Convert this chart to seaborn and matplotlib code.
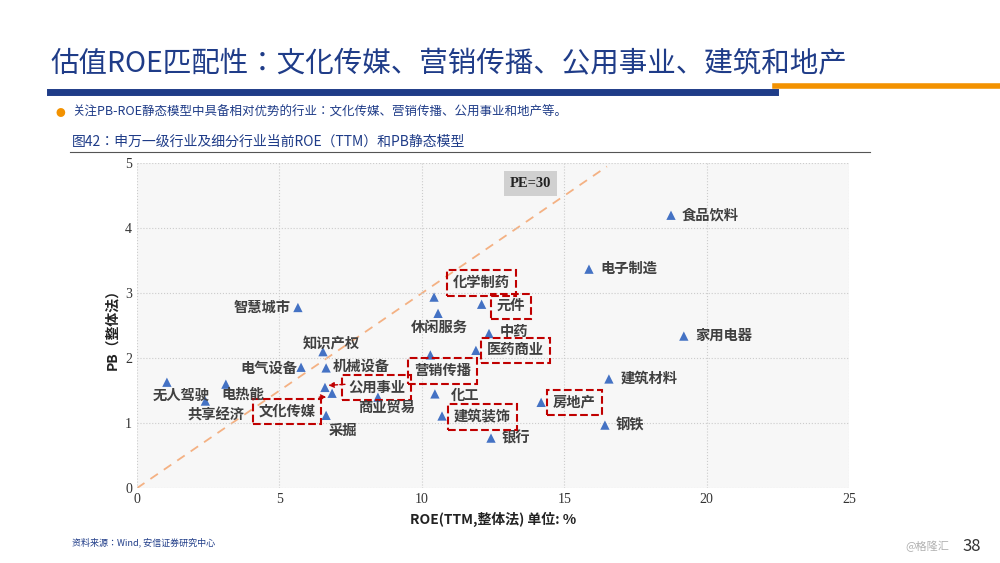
import matplotlib
matplotlib.use("Agg")
import matplotlib.pyplot as plt
import seaborn as sns
import pandas as pd
import numpy as np

plt.rcParams['font.family'] = ['Noto Sans CJK JP']

industries = ['食品饮料', '电子制造', '家用电器', '建筑材料', '钢铁', '房地产', '银行', '建筑装饰',
              '化工', '营销传播', '医药商业', '中药', '元件', '化学制药', '休闲服务', '智慧城市',
              '知识产权', '电气设备', '机械设备', '公用事业', '商业贸易', '文化传媒', '采掘',
              '无人驾驶', '电热能', '共享经济']
roe = [18.75, 15.87, 19.2, 16.57, 16.43, 14.19, 12.43, 10.71,
       10.46, 10.3, 11.9, 12.36, 12.1, 10.43, 10.57, 5.65,
       6.53, 5.76, 6.64, 6.6, 8.46, 6.85, 6.64,
       1.05, 3.12, 2.4]
pb = [4.2, 3.37, 2.34, 1.68, 0.97, 1.32, 0.77, 1.11,
      1.45, 2.05, 2.12, 2.38, 2.83, 2.94, 2.69, 2.78,
      2.1, 1.86, 1.85, 1.55, 1.4, 1.46, 1.12,
      1.63, 1.6, 1.34]
highlight = ['化学制药', '元件', '医药商业', '营销传播', '公用事业', '文化传媒', '建筑装饰', '房地产']
pe_line_x = [0, 16.5]
pe_ratio = 0.3

# label offsets in pixels (dx, dy, ha)
offsets = {
    '食品饮料': (11, 0, 'left'), '电子制造': (11, 0, 'left'), '家用电器': (12, 0, 'left'),
    '建筑材料': (12, 0, 'left'), '钢铁': (11, 0, 'left'), '房地产': (12, 0, 'left'),
    '银行': (11, 0, 'left'), '建筑装饰': (12, -1, 'left'), '化工': (16, -2, 'left'),
    '营销传播': (12, -16, 'center'), '医药商业': (11, 0, 'left'), '中药': (11, 2, 'left'),
    '元件': (15, -2, 'left'), '化学制药': (19, 14, 'left'), '休闲服务': (1, -14, 'center'),
    '智慧城市': (-7, 0, 'right'), '知识产权': (8, 8, 'center'), '电气设备': (-4, -1, 'right'),
    '机械设备': (7, 1, 'left'), '公用事业': (23, 0, 'left'), '商业贸易': (9, -11, 'center'),
    '文化传媒': (-45, -18, 'center'), '采掘': (17, -16, 'center'), '无人驾驶': (14, -14, 'center'),
    '电热能': (17, -11, 'center'), '共享经济': (11, -14, 'center'),
}

df = pd.DataFrame({'industry': industries, 'roe': roe, 'pb': pb})

fig = plt.figure(figsize=(10, 5.63), dpi=100)
ax = fig.add_axes([0.137, 0.133, 0.712, 0.577])
ax.set_facecolor('#f7f7f7')

line_x = np.array(pe_line_x)
ax.plot(line_x, line_x * pe_ratio, color='#f4b183', ls=(0, (5, 4)), lw=1.3, zorder=1)

sns.scatterplot(data=df, x='roe', y='pb', marker='^', color='#4472c4', s=45,
                edgecolor='none', ax=ax, zorder=3)

for _, r in df.iterrows():
    dx, dy, ha = offsets[r.industry]
    box = None
    if r.industry in highlight:
        box = dict(boxstyle='square,pad=0.4', fc='none', ec='#c00000', ls='--', lw=1.5)
    ax.annotate(r.industry, (r.roe, r.pb), xytext=(dx, dy), textcoords='offset pixels',
                ha=ha, va='center', fontsize=10.3, fontweight='bold', color='#404040',
                bbox=box, zorder=4)

# small arrows from boxed labels to their points
ax.annotate('', (6.62, 1.58), xytext=(7.4, 1.6),
            arrowprops=dict(arrowstyle='-|>', color='#c00000', lw=1, ls='--', mutation_scale=8))
ax.annotate('', (6.75, 1.4), xytext=(6.3, 1.4),
            arrowprops=dict(arrowstyle='-|>', color='#c00000', lw=1, ls='--', mutation_scale=8))

ax.text(13.83, 4.69, 'PE=30', ha='center', va='center', fontsize=10.5, fontweight='bold',
        family='Liberation Serif', color='#222222',
        bbox=dict(boxstyle='square,pad=0.4', fc='#d0d0d0', ec='none'))

ax.set_xlim(0, 25)
ax.set_ylim(0, 5)
ax.set_xticks([0, 5, 10, 15, 20, 25])
ax.set_yticks([0, 1, 2, 3, 4, 5])
for lab in ax.get_xticklabels() + ax.get_yticklabels():
    lab.set_family('Liberation Serif')
    lab.set_fontsize(10)
ax.tick_params(length=0, colors='#333333')
ax.grid(True, ls=':', color='#cccccc', lw=0.8)
for s in ax.spines.values():
    s.set_visible(False)
ax.set_xlabel('ROE(TTM,整体法) 单位: %', fontsize=10, fontweight='bold', color='#222222')
ax.set_ylabel('PB（整体法）', fontsize=10, fontweight='bold', color='#222222')

# slide decoration
fig.text(0.05, 0.885, '估值ROE匹配性：文化传媒、营销传播、公用事业、建筑和地产',
         fontsize=20.5, color='#1f3c88', va='center')
fig.add_artist(plt.Line2D([0.05, 0.775], [0.836, 0.836], color='#1f3c88', lw=5))
fig.add_artist(plt.Line2D([0.775, 1.0], [0.847, 0.847], color='#f39200', lw=4))
fig.text(0.055, 0.8, '●', fontsize=7, color='#f39200', va='center')
fig.text(0.072, 0.8, '关注PB-ROE静态模型中具备相对优势的行业：文化传媒、营销传播、公用事业和地产等。',
         fontsize=9, color='#1f3c88', va='center')
fig.text(0.072, 0.749, '图42：申万一级行业及细分行业当前ROE（TTM）和PB静态模型',
         fontsize=10, color='#1f3c88', va='center')
fig.add_artist(plt.Line2D([0.07, 0.87], [0.73, 0.73], color='#555555', lw=0.8))
fig.text(0.072, 0.036, '资料来源：Wind, 安信证券研究中心', fontsize=6.5, color='#1f3c88', va='center')
fig.text(0.905, 0.03, '@格隆汇', fontsize=8, color='#b0b0b0', va='center')
fig.text(0.962, 0.03, '38', fontsize=12, color='#333333', va='center')

fig.savefig('out.png', dpi=100)
